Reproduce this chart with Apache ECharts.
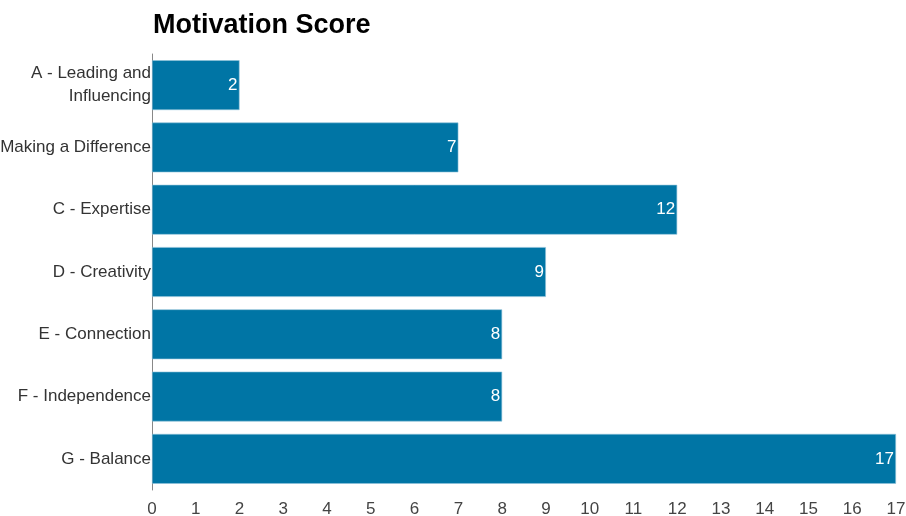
<!DOCTYPE html>
<html><head><meta charset="utf-8">
<script src="https://cdn.jsdelivr.net/npm/echarts@6/dist/echarts.min.js"></script>
<style>html,body{margin:0;padding:0;background:#fff}#c{width:906px;height:516px}</style>
</head><body><div id="c"></div>
<script>
const categories = ["A - Leading and\nInfluencing","B - Making a Difference","C - Expertise","D - Creativity","E - Connection","F - Independence","G - Balance"];
const scores = [2,7,12,9,8,8,17];
const xTicks = [0,17,1];
const chart = echarts.init(document.getElementById('c'));
chart.setOption({
  animation:false,
  title:{text:"Motivation Score",left:148,top:7,textStyle:{fontFamily:"Liberation Sans, Arial, sans-serif",fontWeight:"bold",fontSize:27,color:"#000"}},
  grid:{left:152,right:10,top:54,bottom:26,containLabel:false,outerBoundsMode:"none"},
  xAxis:{type:"value",min:xTicks[0],max:xTicks[1],interval:xTicks[2],
    axisLine:{show:false},axisTick:{show:false},splitLine:{show:false},
    axisLabel:{fontFamily:"Liberation Sans, Arial, sans-serif",fontSize:17,color:"#444",margin:11}},
  yAxis:{type:"category",data:categories,inverse:true,
    axisLine:{show:true,lineStyle:{color:"#888",width:1}},axisTick:{show:false},
    axisLabel:{fontFamily:"Liberation Sans, Arial, sans-serif",fontSize:17,color:"#333",margin:1,lineHeight:23,align:"right"}},
  series:[{type:"bar",data:scores,barCategoryGap:"20%",
    itemStyle:{color:"#0075a5",borderColor:"#8fc3da",borderWidth:0.6},
    label:{show:true,position:"insideRight",offset:[3,0],color:"#fff",fontFamily:"Liberation Sans, Arial, sans-serif",fontSize:17}}]
});
</script></body></html>
